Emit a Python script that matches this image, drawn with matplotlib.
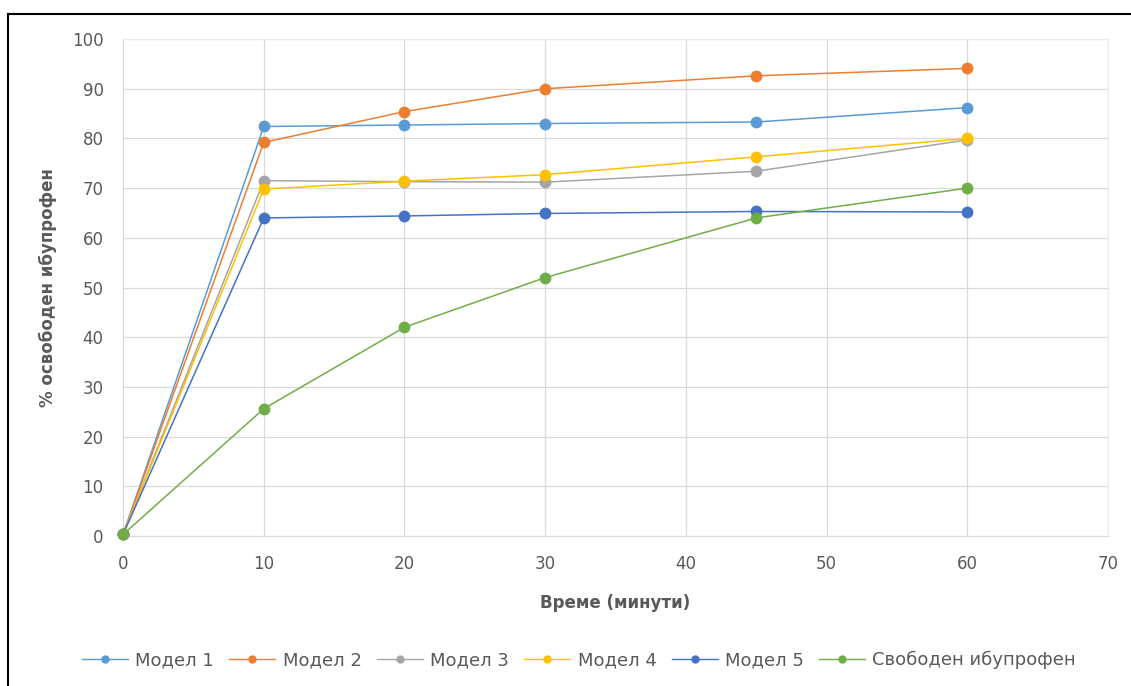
import matplotlib.pyplot as plt
from matplotlib.lines import Line2D

# --- Release data (minutes vs % released) ---
time_min = [0, 10, 20, 30, 45, 60]

model_1 = [0.3, 82.4, 82.7, 83.0, 83.3, 86.2]
model_2 = [0.3, 79.2, 85.4, 90.0, 92.6, 94.1]
model_3 = [0.3, 71.5, 71.3, 71.2, 73.4, 79.7]
model_4 = [0.3, 69.8, 71.4, 72.7, 76.3, 80.0]
model_5 = [0.3, 64.0, 64.4, 64.9, 65.3, 65.2]
free_ibu = [0.3, 25.6, 42.0, 52.0, 64.0, 70.0]

labels = ["Модел 1", "Модел 2", "Модел 3", "Модел 4", "Модел 5", "Свободен ибупрофен"]
colors = ["#5B9BD5", "#ED7D31", "#A5A5A5", "#FFC000", "#4472C4", "#70AD47"]
series = [model_1, model_2, model_3, model_4, model_5, free_ibu]

x_ticks = [0, 10, 20, 30, 40, 50, 60, 70]
y_ticks = [0, 10, 20, 30, 40, 50, 60, 70, 80, 90, 100]

plt.rcParams['font.family'] = ['DejaVu Sans']
text_col = "#595959"

fig = plt.figure(figsize=(11.31, 6.86), dpi=100)
ax = fig.add_axes([0.1088, 0.2187, 0.8709, 0.7244])

# --- Lines, drawn so that the last series sits on top ---
for vals, lab, col in zip(series, labels, colors):
    ax.plot(time_min, vals, color=col, linewidth=1.1, marker='o',
            markersize=8.5, markeredgewidth=0, label=lab, zorder=3,
            clip_on=False)

# --- Axis formatting ---
ax.set_xlim(0, 70)
ax.set_ylim(0, 100)
ax.set_xticks(x_ticks)
ax.set_yticks(y_ticks)
ax.grid(True, color="#D9D9D9", linewidth=0.9, zorder=0)
ax.set_axisbelow(True)
for side in ["top", "right"]:
    ax.spines[side].set_color("#EBEBEB")
    ax.spines[side].set_linewidth(0.9)
ax.spines["left"].set_color("#D9D9D9")
ax.spines["bottom"].set_color("#D9D9D9")
ax.tick_params(axis='both', length=0, labelsize=12, labelcolor=text_col)
ax.tick_params(axis='x', pad=14)
ax.tick_params(axis='y', pad=14)

ax.set_xlabel("Време (минути)", fontsize=12, fontweight='bold', color=text_col, labelpad=15)
ax.set_ylabel("% освободен ибупрофен", fontsize=12, fontweight='bold', color=text_col, labelpad=11)

# --- Legend below the plot ---
handles = [Line2D([0], [0], color=c, linewidth=1.0, marker='o', markersize=6,
                  markeredgewidth=0) for c in colors]
fig.legend(handles, labels, loc='center', bbox_to_anchor=(579 / 1131, 1 - 660 / 686), ncol=6,
           frameon=False, fontsize=13, handlelength=2.55, handletextpad=0.4,
           columnspacing=0.85, labelcolor=text_col)

# --- Outer frame (top and left edges only) ---
fig.add_artist(Line2D([8 / 1131, 1.0], [1 - 14 / 686, 1 - 14 / 686],
                      transform=fig.transFigure, color="black", linewidth=1.5))
fig.add_artist(Line2D([8 / 1131, 8 / 1131], [0.0, 1 - 14 / 686],
                      transform=fig.transFigure, color="black", linewidth=1.5))

fig.savefig("out.png", dpi=100)
